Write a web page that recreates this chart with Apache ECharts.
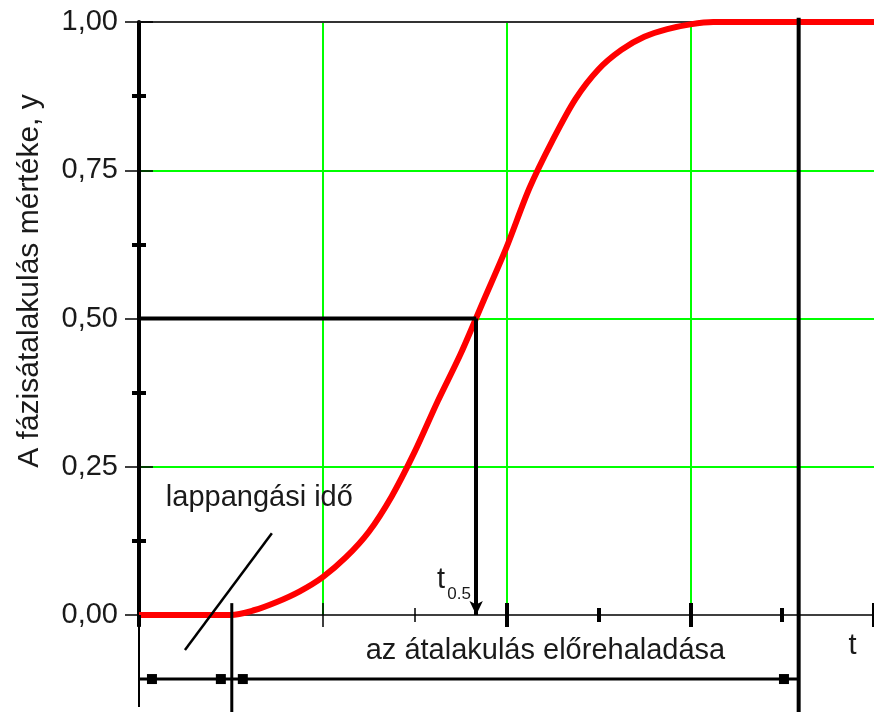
<!DOCTYPE html>
<html><head><meta charset="utf-8">
<script src="https://cdn.jsdelivr.net/npm/echarts@6/dist/echarts.min.js"></script>
<style>html,body{margin:0;padding:0;background:#fff}#c{width:874px;height:712px}</style>
</head><body><div id="c"></div>
<script>
// ---- data ----
const curveT = [0, 1, 1.25, 1.5, 1.75, 2.0, 2.25, 2.5, 2.75, 3.0, 3.25, 3.5, 3.75, 4.0, 4.25, 4.5, 4.75, 5.0, 5.25, 5.5, 5.75, 6.0, 6.25, 8];
const curveY = [0, 0, 0.008, 0.022, 0.04, 0.064, 0.097, 0.14, 0.2, 0.275, 0.36, 0.44, 0.53, 0.62, 0.72, 0.80, 0.87, 0.92, 0.953, 0.975, 0.988, 0.996, 1.0, 1.0];
const yTickValues = [0, 0.25, 0.5, 0.75, 1];
const yTickLabels = ['0,00', '0,25', '0,50', '0,75', '1,00'];
const xThinLongTicks = [2];
const xThinShortTicks = [3];
const xThickLongTicks = [4, 6, 8];
const xThickShortTicks = [5, 7];
const tHalf = 3.67, yHalf = 0.5;
const lagEnd = 1.01, progressEnd = 7.18;
const dimLevel = -0.108, lowEdge = -0.164;
const dimMarkersT = [0.141, 0.891, 1.13, 7.02];
const lagPointer = [[0.5, -0.059], [1.446, 0.138]];
const labelTexts = ['lappangási idő', 'az átalakulás előrehaladása', 't', 't', '0.5'];
const labelT = [1.31, 4.424, 7.766, 3.288, 3.484];
const labelY = [0.198, -0.060, -0.053, 0.0597, 0.0356];
const labelSizes = [29, 29, 29, 29, 17];
const yTitle = 'A fázisátalakulás mértéke, y';

// ---- chart ----
const FONT = '"Liberation Sans", Arial, sans-serif';
const TEXT = '#1a1a1a';
const chart = echarts.init(document.getElementById('c'), null, {renderer: 'canvas'});

function tickAxis(values, len, width, inside) {
  return {
    type: 'value', min: 0, max: 8, position: 'bottom',
    axisLine: {show: false, onZero: false},
    axisLabel: {show: false}, splitLine: {show: false},
    axisTick: {show: true, customValues: values, length: len, inside: inside,
      lineStyle: {color: '#000', width: width}}
  };
}
function seg(points, width) {
  return {
    type: 'line', xAxisIndex: 0, yAxisIndex: 0, data: points, clip: false,
    symbol: 'none', silent: true, z: 5,
    lineStyle: {color: '#000', width: width, cap: 'butt'}
  };
}

const xAxes = [
  {
    type: 'value', min: 0, max: 8, interval: 2, position: 'bottom',
    axisLine: {show: true, onZero: false, lineStyle: {color: '#000', width: 1.5}},
    axisTick: {show: false}, axisLabel: {show: false},
    splitLine: {show: true, showMinLine: false, showMaxLine: false, lineStyle: {color: '#00ff00', width: 2}}
  },
  tickAxis(xThinLongTicks, 12, 1.5, false),
  tickAxis(xThinLongTicks, 12, 1.5, true),
  tickAxis(xThinShortTicks, 7, 1.5, false),
  tickAxis(xThinShortTicks, 7, 1.5, true),
  tickAxis(xThickLongTicks, 12, 4, false),
  tickAxis(xThickLongTicks, 12, 4, true),
  tickAxis(xThickShortTicks, 7, 4, false),
  tickAxis(xThickShortTicks, 7, 4, true),
  {
    type: 'value', min: 0, max: 8, position: 'top',
    axisLine: {show: true, onZero: false, lineStyle: {color: '#333', width: 2}},
    axisTick: {show: false}, axisLabel: {show: false}, splitLine: {show: false}
  }
];

const yAxes = [
  {
    type: 'value', min: 0, max: 1, interval: 0.25, position: 'left',
    axisLine: {show: true, onZero: false, lineStyle: {color: '#000', width: 4}},
    axisTick: {show: true, length: 14, lineStyle: {color: '#000', width: 1.5}},
    minorTick: {show: true, splitNumber: 2, length: 7, lineStyle: {color: '#000', width: 4}},
    axisLabel: {
      margin: 21, fontSize: 29, color: TEXT, fontFamily: FONT,
      formatter: v => { const i = yTickValues.findIndex(t => Math.abs(t - v) < 1e-6); return i >= 0 ? yTickLabels[i] : ''; }
    },
    splitLine: {show: true, showMinLine: false, showMaxLine: false, lineStyle: {color: '#00ff00', width: 2}}
  },
  {
    type: 'value', min: 0, max: 1, interval: 0.25, position: 'left',
    axisLine: {show: false, onZero: false},
    axisTick: {show: true, inside: true, length: 14, lineStyle: {color: '#000', width: 1.5}},
    minorTick: {show: true, splitNumber: 2, length: 7, lineStyle: {color: '#000', width: 4}},
    axisLabel: {show: false}, splitLine: {show: false}
  }
];

const series = [
  {
    type: 'line', xAxisIndex: 0, yAxisIndex: 0,
    data: curveT.map((t, i) => [t, curveY[i]]),
    smooth: 0.3, showSymbol: false, symbol: 'none', z: 3,
    lineStyle: {color: '#ff0000', width: 6}
  },
  Object.assign(seg([[0, yHalf], [tHalf, yHalf]], 4), {
    markLine: {
      silent: true, symbol: ['none', 'arrow'], symbolSize: [10, 14],
      label: {show: false},
      lineStyle: {color: '#000', width: 4, type: 'solid'},
      data: [[{coord: [tHalf, yHalf]}, {coord: [tHalf, 0]}]]
    }
  }),
  seg(lagPointer, 2.5),
  seg([[lagEnd, 0.02], [lagEnd, lowEdge]], 3),
  seg([[progressEnd, 1.007], [progressEnd, lowEdge]], 4),
  seg([[0, 0], [0, -0.155]], 2),
  seg([[0, 0], [0, -0.02]], 4),
  seg([[0, dimLevel], [progressEnd, dimLevel]], 3),
  {
    type: 'scatter', xAxisIndex: 0, yAxisIndex: 0, clip: false, silent: true, z: 6,
    symbol: 'rect', symbolSize: 10, itemStyle: {color: '#000', opacity: 1},
    data: dimMarkersT.map(t => [t, dimLevel])
  },
  {
    type: 'scatter', xAxisIndex: 0, yAxisIndex: 0, clip: false, silent: true, z: 6,
    symbolSize: 0, itemStyle: {opacity: 1},
    label: {show: true, position: 'inside', formatter: '{b}', color: TEXT, fontFamily: FONT},
    data: labelTexts.map((s, i) => ({name: s, value: [labelT[i], labelY[i]], label: {fontSize: labelSizes[i]}}))
  }
];

chart.setOption({
  animation: false,
  backgroundColor: '#fff',
  grid: {left: 139, top: 22, width: 736, height: 593, containLabel: false},
  xAxis: xAxes,
  yAxis: yAxes,
  series: series,
  graphic: [{
    type: 'text', x: 30, y: 281, rotation: Math.PI / 2, silent: true,
    style: {text: yTitle, fontSize: 30, fontFamily: FONT, fill: TEXT, align: 'center', verticalAlign: 'middle'}
  }]
});
</script></body></html>
